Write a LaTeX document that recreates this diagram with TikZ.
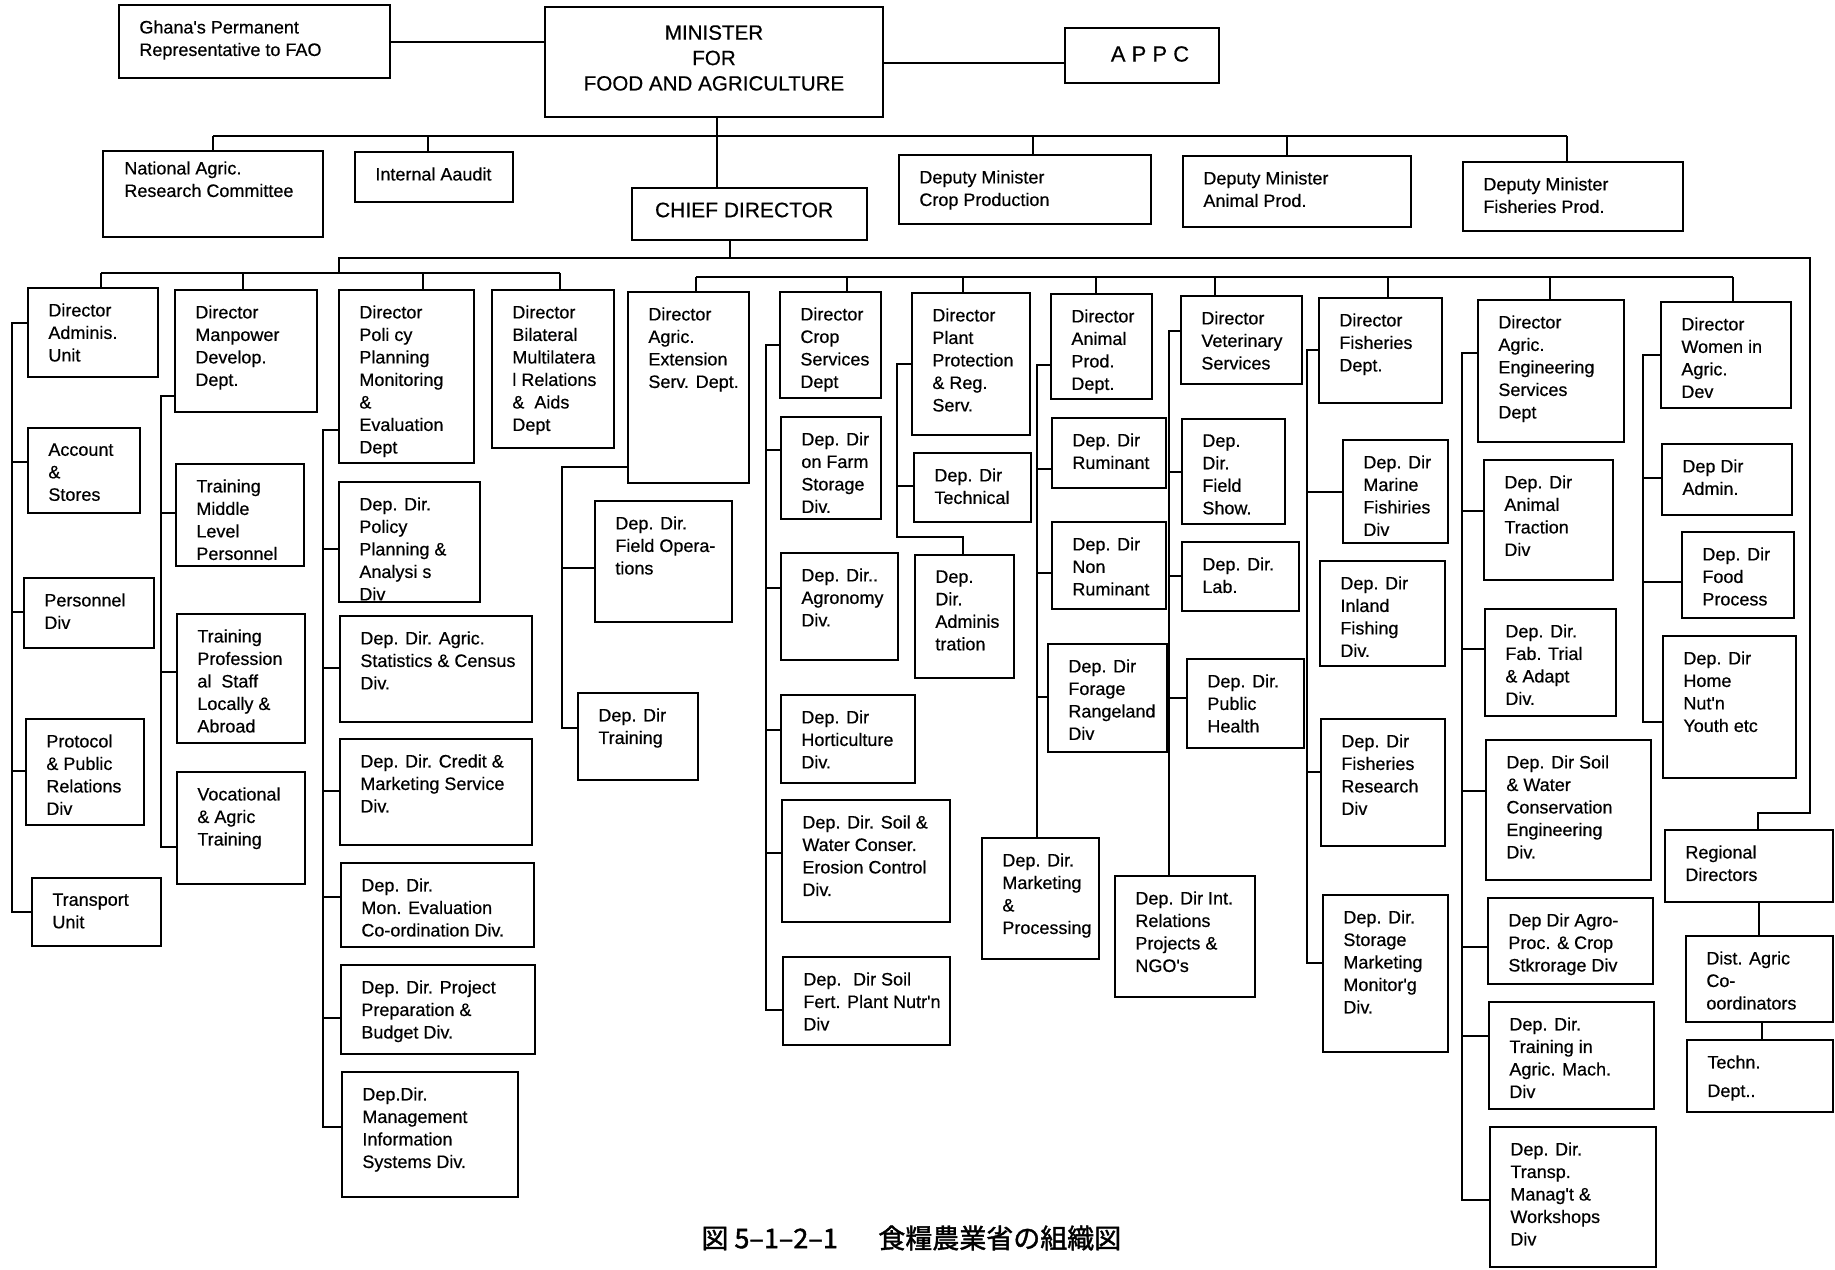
\documentclass[tikz,border=0pt]{standalone}
\usepackage{fontspec}
\setmainfont{Liberation Sans}
\newfontfamily\boxfont{Liberation Sans}[FakeBold=0.5]
\newfontfamily\cjkfont{Noto Sans CJK JP}[FakeBold=1.5]
\usetikzlibrary{fit}
\tikzset{
  ln/.style={line width=0.8pt},
  obox/.style={draw, line width=0.8pt, inner sep=0pt},
  otxt/.style={anchor=north west, inner sep=0pt, align=left, font=\boxfont\fontsize{9}{11.25}\selectfont},
}
\newcommand\ob[6]{\node[obox, fit={(#2,#3) (#4,#5)}] (#1) {};
  \node[otxt] (#1t) at (#2+20,#3+15) {#6};}
\newcommand\obx[8]{\node[obox, fit={(#2,#3) (#4,#5)}] (#1) {};
  \node[otxt] (#1t) at (#2+#6,#3+#7) {#8};}
\newcommand\stub[3]{\draw[ln] (#1,#2) -- (#3.west |- #1,#2);}
\newcommand\drop[3]{\draw[ln] (#1,#2) -- (#1,0 |- #3.north);}
\begin{document}
\begin{tikzpicture}[x=0.5pt,y=-0.5pt]
\fill[white] (0,0) rectangle (1835,1269);
\useasboundingbox (0,0) rectangle (1835,1269);

% top level
\ob{gh}{119}{5}{390}{78}{Ghana's Permanent\\Representative to FAO}
\node[obox, fit={(545,7) (883,117)}] (min) {};
\node[font=\boxfont\fontsize{10.3}{12.7}\selectfont, align=center] (mint) at (714,58) {MINISTER\\FOR\\FOOD AND AGRICULTURE};
\node[obox, fit={(1065,28) (1219,83)}] (appc) {};
\node[font=\boxfont\fontsize{11}{13}\selectfont] (appct) at (1150,54) {A P P C};
\obx{nar}{103}{151}{323}{237}{21}{10}{National Agric.\\Research Committee}
\ob{ia}{355}{152}{513}{202}{Internal Aaudit}
\node[obox, fit={(632,188) (867,240)}] (cd) {};
\node[anchor=west, font=\boxfont\fontsize{10.5}{12}\selectfont] (cdt) at (648,210) {CHIEF DIRECTOR};
\ob{dmc}{899}{155}{1151}{224}{Deputy Minister\\Crop Production}
\ob{dma}{1183}{156}{1411}{227}{Deputy Minister\\Animal Prod.}
\ob{dmf}{1463}{162}{1683}{231}{Deputy Minister\\Fisheries Prod.}

% directors
\ob{dadm}{28}{288}{158}{377}{Director\\Adminis.\\Unit}
\ob{dman}{175}{290}{317}{412}{Director\\Manpower\\Develop.\\Dept.}
\ob{dpol}{339}{290}{474}{463}{Director\\Poli cy\\Planning\\Monitoring\\\&\\Evaluation\\Dept}
\ob{dbil}{492}{290}{614}{448}{Director\\Bilateral\\Multilatera\\l Relations\\\& \ Aids\\Dept}
\ob{dext}{628}{292}{749}{483}{Director\\Agric.\\Extension\\Serv. Dept.}
\ob{dcrop}{780}{292}{881}{398}{Director\\Crop\\Services\\Dept}
\ob{dpp}{912}{293}{1030}{435}{Director\\Plant\\Protection\\\& Reg.\\Serv.}
\ob{dani}{1051}{294}{1152}{399}{Director\\Animal\\Prod.\\Dept.}
\ob{dvet}{1181}{296}{1302}{384}{Director\\Veterinary\\Services}
\ob{dfis}{1319}{298}{1442}{403}{Director\\Fisheries\\Dept.}
\ob{deng}{1478}{300}{1624}{442}{Director\\Agric.\\Engineering\\Services\\Dept}
\ob{dwom}{1661}{302}{1791}{408}{Director\\Women in\\Agric.\\Dev}

% administration
\ob{acc}{28}{428}{140}{513}{Account\\\&\\Stores}
\ob{per}{24}{578}{154}{648}{Personnel\\Div}
\ob{pro}{26}{719}{144}{825}{Protocol\\\& Public\\Relations\\Div}
\ob{tra}{32}{878}{161}{946}{Transport\\Unit}
% manpower
\ob{tmid}{176}{464}{304}{566}{Training\\Middle\\Level\\Personnel}
\ob{tprof}{177}{614}{305}{743}{Training\\Profession\\al \ Staff\\Locally \&\\Abroad}
\ob{voc}{177}{772}{305}{884}{Vocational\\\& Agric\\Training}
% policy
\ob{ppa}{339}{482}{480}{602}{Dep. Dir.\\Policy\\Planning \&\\Analysi s\\Div}
\ob{ast}{340}{616}{532}{722}{Dep. Dir. Agric.\\Statistics \& Census\\Div.}
\ob{cre}{340}{739}{532}{845}{Dep. Dir. Credit \&\\Marketing Service\\Div.}
\ob{mon}{341}{863}{534}{947}{Dep. Dir.\\Mon. Evaluation\\Co-ordination Div.}
\ob{prj}{341}{965}{535}{1054}{Dep. Dir. Project\\Preparation \&\\Budget Div.}
\ob{mis}{342}{1072}{518}{1197}{Dep.Dir.\\Management\\Information\\Systems Div.}
% extension
\ob{fop}{595}{501}{732}{622}{Dep. Dir.\\Field Opera-\\tions}
\ob{trn}{578}{693}{698}{780}{Dep. Dir\\Training}
% crop
\ob{ofs}{781}{417}{881}{519}{Dep. Dir\\on Farm\\Storage\\Div.}
\ob{agr}{781}{553}{898}{660}{Dep. Dir..\\Agronomy\\Div.}
\ob{hor}{781}{695}{915}{783}{Dep. Dir\\Horticulture\\Div.}
\ob{swc}{782}{800}{950}{922}{Dep. Dir. Soil \&\\Water Conser.\\Erosion Control\\Div.}
\ob{sfn}{783}{957}{950}{1045}{Dep. \ Dir Soil\\Fert. Plant Nutr'n\\Div}
% plant protection
\ob{tec}{914}{453}{1031}{522}{Dep. Dir\\Technical}
\ob{adm2}{915}{555}{1014}{678}{Dep.\\Dir.\\Adminis\\tration}
% animal
\ob{rum}{1052}{418}{1166}{488}{Dep. Dir\\Ruminant}
\ob{nrum}{1052}{522}{1166}{609}{Dep. Dir\\Non\\Ruminant}
\ob{frg}{1048}{644}{1167}{752}{Dep. Dir\\Forage\\Rangeland\\Div}
\ob{mkt}{982}{838}{1099}{959}{Dep. Dir.\\Marketing\\\&\\Processing}
% veterinary
\ob{fsh}{1182}{419}{1285}{524}{Dep.\\Dir.\\Field\\Show.}
\ob{lab}{1182}{542}{1299}{611}{Dep. Dir.\\Lab.}
\ob{pub}{1187}{659}{1304}{748}{Dep. Dir.\\Public\\Health}
\ob{int}{1115}{876}{1255}{997}{Dep. Dir Int.\\Relations\\Projects \&\\NGO's}
% fisheries
\ob{mar}{1343}{440}{1448}{543}{Dep. Dir\\Marine\\Fishiries\\Div}
\ob{inl}{1320}{561}{1445}{666}{Dep. Dir\\Inland\\Fishing\\Div.}
\ob{fre}{1321}{719}{1445}{846}{Dep. Dir\\Fisheries\\Research\\Div}
\ob{sto}{1323}{895}{1448}{1052}{Dep. Dir.\\Storage\\Marketing\\Monitor'g\\Div.}
% engineering
\ob{atr}{1484}{460}{1613}{580}{Dep. Dir\\Animal\\Traction\\Div}
\ob{fab}{1485}{609}{1616}{716}{Dep. Dir.\\Fab. Trial\\\& Adapt\\Div.}
\ob{swe}{1486}{740}{1651}{880}{Dep. Dir Soil\\\& Water\\Conservation\\Engineering\\Div.}
\ob{agp}{1488}{898}{1653}{984}{Dep Dir Agro-\\Proc. \& Crop\\Stkrorage Div}
\ob{tmc}{1489}{1002}{1654}{1109}{Dep. Dir.\\Training in\\Agric. Mach.\\Div}
\ob{tws}{1490}{1127}{1656}{1267}{Dep. Dir.\\Transp.\\Manag't \&\\Workshops\\Div}
% women
\ob{wad}{1662}{444}{1792}{515}{Dep Dir\\Admin.}
\ob{wfp}{1682}{532}{1794}{618}{Dep. Dir\\Food\\Process}
\ob{whm}{1663}{636}{1796}{778}{Dep. Dir\\Home\\Nut'n\\Youth etc}
% regional
\ob{reg}{1665}{830}{1833}{902}{Regional\\Directors}
\ob{dis}{1686}{936}{1833}{1022}{Dist. Agric\\Co-\\oordinators}
\ob{tch}{1687}{1040}{1833}{1112}{Techn.\\[3pt]Dept..}

% top connectors
\draw[ln] (gh.east |- 0,42) -- (min.west |- 0,42);
\draw[ln] (min.east |- 0,63) -- (appc.west |- 0,63);
\draw[ln] (717,0 |- min.south) -- (717,0 |- cd.north);
\draw[ln] (213,136) -- (1567,136);
\drop{213}{136}{nar} \drop{428}{136}{ia} \drop{1033}{136}{dmc}
\drop{1287}{136}{dma} \drop{1567}{136}{dmf}
\draw[ln] (730,0 |- cd.south) -- (730,258);
\draw[ln] (339,273) -- (339,258) -- (1810,258) -- (1810,813) -- (1758,813) -- (1758,0 |- reg.north);
\draw[ln] (101,273) -- (560,273);
\drop{101}{273}{dadm} \drop{243}{273}{dman} \drop{423}{273}{dpol} \drop{560}{273}{dbil}
\draw[ln] (696,277) -- (1733,277);
\drop{696}{277}{dext} \drop{847}{277}{dcrop} \drop{963}{277}{dpp} \drop{1096}{277}{dani}
\drop{1215}{277}{dvet} \drop{1388}{277}{dfis} \drop{1550}{277}{deng} \drop{1733}{277}{dwom}
\draw[ln] (1759,0 |- reg.south) -- (1759,0 |- dis.north);
\draw[ln] (1762,0 |- dis.south) -- (1762,0 |- tch.north);

% sub connectors
\draw[ln] (dadm.west |- 0,323) -- (12,323) -- (12,912) -- (tra.west |- 0,912);
\stub{12}{462}{acc} \stub{12}{612}{per} \stub{12}{771}{pro}
\draw[ln] (dman.west |- 0,396) -- (161,396) -- (161,847) -- (voc.west |- 0,847);
\stub{161}{513}{tmid} \stub{161}{672}{tprof}
\draw[ln] (dpol.west |- 0,430) -- (323,430) -- (323,1127) -- (mis.west |- 0,1127);
\stub{323}{549}{ppa} \stub{323}{668}{ast} \stub{323}{791}{cre} \stub{323}{897}{mon} \stub{323}{1018}{prj}
\draw[ln] (dext.west |- 0,467) -- (562,467) -- (562,728) -- (trn.west |- 0,728);
\stub{562}{568}{fop}
\draw[ln] (dcrop.west |- 0,345) -- (766,345) -- (766,1010) -- (sfn.west |- 0,1010);
\stub{766}{450}{ofs} \stub{766}{588}{agr} \stub{766}{730}{hor} \stub{766}{853}{swc}
\draw[ln] (dpp.west |- 0,364) -- (897,364) -- (897,537) -- (963,537) -- (963,0 |- adm2.north);
\stub{897}{486}{tec}
\draw[ln] (dani.west |- 0,365) -- (1037,365) -- (1037,0 |- mkt.north);
\stub{1037}{469}{rum} \stub{1037}{573}{nrum} \stub{1037}{697}{frg}
\draw[ln] (dvet.west |- 0,331) -- (1169,331) -- (1169,0 |- int.north);
\stub{1169}{472}{fsh} \stub{1169}{576}{lab} \stub{1169}{698}{pub}
\draw[ln] (dfis.west |- 0,350) -- (1307,350) -- (1307,963) -- (sto.west |- 0,963);
\stub{1307}{492}{mar} \stub{1307}{772}{fre}
\draw[ln] (deng.west |- 0,353) -- (1462,353) -- (1462,1200) -- (tws.west |- 0,1200);
\stub{1462}{511}{atr} \stub{1462}{649}{fab} \stub{1462}{791}{swe} \stub{1462}{947}{agp} \stub{1462}{1036}{tmc}
\draw[ln] (dwom.west |- 0,355) -- (1643,355) -- (1643,722) -- (whm.west |- 0,722);
\stub{1643}{478}{wad} \stub{1643}{582}{wfp}

% caption
\node[anchor=west, inner sep=0pt, font=\cjkfont\fontsize{13.5}{16}\selectfont] (cap) at (701,1238) {図 5–1–2–1\hspace{1.5em}食糧農業省の組織図};
\end{tikzpicture}
\end{document}
